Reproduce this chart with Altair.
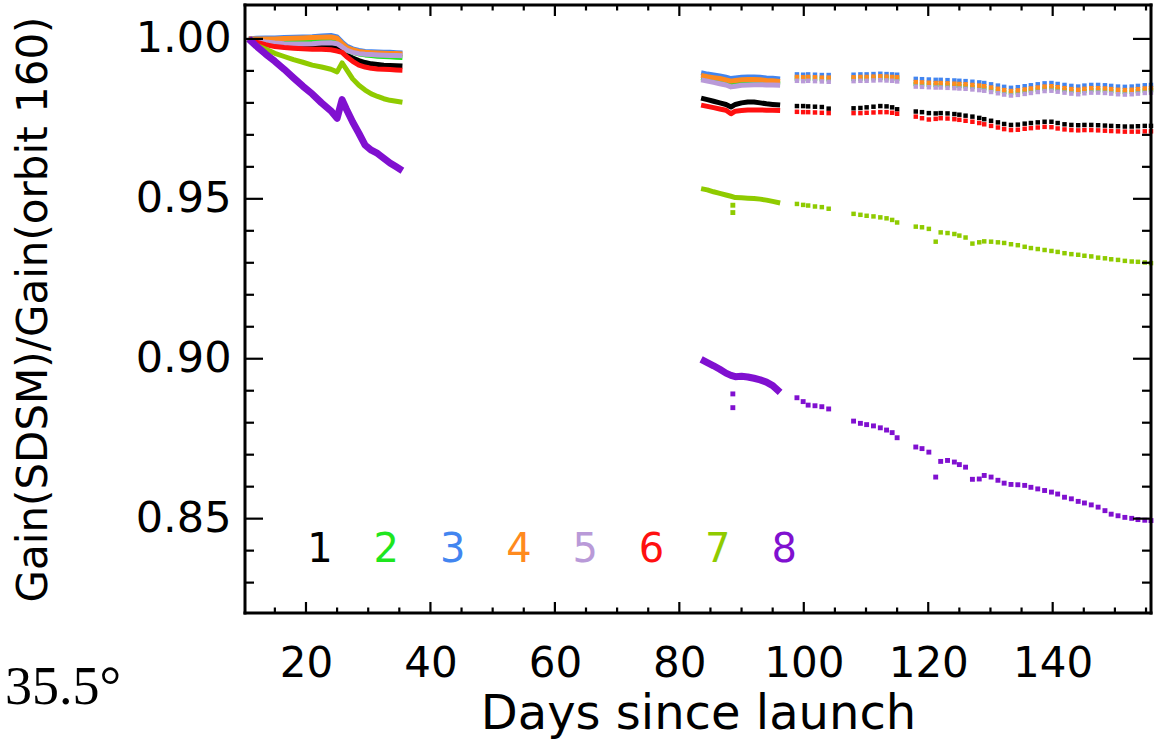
import altair as alt
import pandas as pd

# Detector bands and their plotting colours
BANDS = ["1", "2", "3", "4", "5", "6", "7", "8"]
COLORS = ["#000000", "#1ee61e", "#4285f0", "#ff8a1e", "#b99ad8", "#ff1010", "#8fcb00", "#8010d0"]

# ---- early period: days 11-36 (continuous sampling) ----
seg1_days = [10.8, 12.0, 13.5, 15.0, 16.5, 18.0, 19.5, 21.0, 22.5, 24.0, 25.0,
             25.8, 26.5, 27.5, 28.5, 29.5, 30.5, 31.5, 32.5, 33.5, 34.5, 35.5]
seg1_vals = {
    "1": [1.0000, 0.9993, 0.9988, 0.9984, 0.9981, 0.9979, 0.9977, 0.9976, 0.9975, 0.9974, 0.9973,
          0.9968, 0.9952, 0.9940, 0.9932, 0.9926, 0.9922, 0.9920, 0.9918, 0.9917, 0.9916, 0.9915],
    "2": [1.0000, 0.9998, 0.9996, 0.9995, 0.9994, 0.9994, 0.9994, 0.9995, 0.9996, 0.9996, 0.9992,
          0.9978, 0.9965, 0.9958, 0.9953, 0.9950, 0.9948, 0.9946, 0.9945, 0.9944, 0.9943, 0.9942],
    "3": [1.0000, 1.0002, 1.0003, 1.0003, 1.0004, 1.0005, 1.0006, 1.0007, 1.0009, 1.0011, 1.0006,
          0.9990, 0.9978, 0.9969, 0.9964, 0.9961, 0.9960, 0.9959, 0.9958, 0.9958, 0.9957, 0.9956],
    "4": [1.0000, 1.0000, 1.0000, 1.0000, 1.0001, 1.0002, 1.0003, 1.0004, 1.0005, 1.0006, 1.0002,
          0.9986, 0.9974, 0.9966, 0.9961, 0.9958, 0.9957, 0.9956, 0.9955, 0.9954, 0.9954, 0.9953],
    "5": [1.0000, 0.9994, 0.9990, 0.9987, 0.9985, 0.9984, 0.9984, 0.9985, 0.9987, 0.9988, 0.9985,
          0.9975, 0.9965, 0.9958, 0.9954, 0.9952, 0.9951, 0.9950, 0.9949, 0.9948, 0.9948, 0.9947],
    "6": [1.0000, 0.9990, 0.9982, 0.9976, 0.9973, 0.9971, 0.9969, 0.9968, 0.9968, 0.9966, 0.9962,
          0.9958, 0.9945, 0.9930, 0.9918, 0.9912, 0.9908, 0.9906, 0.9905, 0.9904, 0.9903, 0.9902],
    "7": [1.0000, 0.9980, 0.9968, 0.9955, 0.9945, 0.9935, 0.9927, 0.9918, 0.9912, 0.9905, 0.9897,
          0.9925, 0.9905, 0.9875, 0.9855, 0.9840, 0.9828, 0.9820, 0.9813, 0.9808, 0.9805, 0.9802],
    "8": [1.0000, 0.9978, 0.9953, 0.9930, 0.9905, 0.9878, 0.9852, 0.9828, 0.9800, 0.9775, 0.9752,
          0.9810, 0.9780, 0.9740, 0.9705, 0.9668, 0.9652, 0.9642, 0.9627, 0.9612, 0.9600, 0.9588],
}

# ---- second period, dense part: days 83-96 ----
dense_days = [83.5, 84.5, 85.5, 86.5, 87.5, 88.3, 89.0, 90.0, 91.0, 92.0, 93.0, 94.0, 95.0, 96.2]
dense_vals = {
    "1": [0.9815, 0.9810, 0.9805, 0.9800, 0.9795, 0.9787, 0.9795, 0.9800, 0.9803, 0.9803, 0.9800, 0.9797, 0.9795, 0.9793],
    "2": [0.9878, 0.9874, 0.9871, 0.9868, 0.9864, 0.9860, 0.9862, 0.9864, 0.9865, 0.9865, 0.9864, 0.9862, 0.9861, 0.9859],
    "3": [0.9894, 0.9890, 0.9887, 0.9884, 0.9880, 0.9876, 0.9878, 0.9880, 0.9881, 0.9881, 0.9880, 0.9878, 0.9877, 0.9875],
    "4": [0.9886, 0.9882, 0.9879, 0.9876, 0.9872, 0.9868, 0.9870, 0.9872, 0.9873, 0.9873, 0.9872, 0.9870, 0.9869, 0.9867],
    "5": [0.9872, 0.9868, 0.9864, 0.9860, 0.9856, 0.9850, 0.9852, 0.9855, 0.9856, 0.9857, 0.9857, 0.9856, 0.9856, 0.9855],
    "6": [0.9793, 0.9789, 0.9785, 0.9781, 0.9777, 0.9766, 0.9774, 0.9776, 0.9778, 0.9778, 0.9778, 0.9777, 0.9777, 0.9776],
    "7": [0.9532, 0.9528, 0.9522, 0.9517, 0.9512, 0.9508, 0.9504, 0.9503, 0.9502, 0.9501, 0.9499, 0.9496, 0.9492, 0.9487],
    "8": [0.8998, 0.8988, 0.8978, 0.8967, 0.8955, 0.8948, 0.8944, 0.8945, 0.8943, 0.8939, 0.8934, 0.8927, 0.8916, 0.8895],
}

# outlying samples around day 88.6
dip_band = ["7", "7", "8", "8"]
dip_day = [88.6, 88.6, 88.6, 88.6]
dip_val = [0.9480, 0.9457, 0.8890, 0.8847]

# ---- second period, sparse samples: days 99-156 ----
sparse_days = [98.9, 99.9, 100.7, 101.8, 102.9, 104.0,
               108.0, 109.1, 110.1, 111.2, 112.3, 113.3, 114.2, 115.0,
               118.0, 119.0, 120.1, 121.2, 122.0, 123.1, 124.2, 125.0, 126.0, 127.1, 128.2, 129.0,
               130.1, 131.2, 132.2, 133.3, 134.4, 135.5, 136.5, 137.6, 138.7, 139.8, 140.8, 141.9,
               143.0, 144.1, 145.1, 146.2, 147.3, 148.4, 149.4, 150.5, 151.6, 152.7, 153.7, 154.8, 155.8]
sparse_vals = {
    "1": [0.9790, 0.9790, 0.9789, 0.9788, 0.9787, 0.9782]
       + [0.9783, 0.9784, 0.9786, 0.9788, 0.9790, 0.9789, 0.9786, 0.9780]
       + [0.9773, 0.9771, 0.9768, 0.9767, 0.9768, 0.9767, 0.9765, 0.9763, 0.9760, 0.9757,
          0.9753, 0.9749, 0.9744, 0.9739, 0.9734, 0.9731, 0.9732, 0.9735, 0.9737, 0.9739,
          0.9741, 0.9741, 0.9737, 0.9733, 0.9731, 0.9730, 0.9731, 0.9731, 0.9730, 0.9729,
          0.9728, 0.9727, 0.9726, 0.9726, 0.9727, 0.9728, 0.9728],
    "2": [0.9876, 0.9875, 0.9876, 0.9875, 0.9874, 0.9874]
       + [0.9875, 0.9876, 0.9876, 0.9877, 0.9878, 0.9877, 0.9876, 0.9875]
       + [0.9859, 0.9858, 0.9857, 0.9856, 0.9856, 0.9855, 0.9854, 0.9853, 0.9852, 0.9850,
          0.9848, 0.9846, 0.9842, 0.9838, 0.9834, 0.9831, 0.9833, 0.9836, 0.9839, 0.9842,
          0.9845, 0.9846, 0.9843, 0.9840, 0.9837, 0.9835, 0.9838, 0.9840, 0.9840, 0.9839,
          0.9837, 0.9835, 0.9834, 0.9835, 0.9837, 0.9839, 0.9840],
    "3": [0.9889, 0.9888, 0.9889, 0.9888, 0.9887, 0.9887]
       + [0.9888, 0.9889, 0.9889, 0.9890, 0.9891, 0.9890, 0.9889, 0.9888]
       + [0.9875, 0.9874, 0.9873, 0.9872, 0.9872, 0.9871, 0.9870, 0.9869, 0.9868, 0.9866,
          0.9864, 0.9862, 0.9858, 0.9854, 0.9850, 0.9847, 0.9849, 0.9852, 0.9855, 0.9858,
          0.9861, 0.9862, 0.9859, 0.9856, 0.9853, 0.9851, 0.9854, 0.9856, 0.9856, 0.9855,
          0.9853, 0.9851, 0.9850, 0.9851, 0.9853, 0.9855, 0.9856],
    "4": [0.9881, 0.9880, 0.9881, 0.9880, 0.9879, 0.9879]
       + [0.9880, 0.9881, 0.9881, 0.9882, 0.9883, 0.9882, 0.9881, 0.9880]
       + [0.9865, 0.9864, 0.9863, 0.9862, 0.9862, 0.9861, 0.9860, 0.9859, 0.9858, 0.9856,
          0.9854, 0.9852, 0.9848, 0.9844, 0.9840, 0.9837, 0.9839, 0.9842, 0.9845, 0.9848,
          0.9851, 0.9852, 0.9849, 0.9846, 0.9843, 0.9841, 0.9844, 0.9846, 0.9846, 0.9845,
          0.9843, 0.9841, 0.9840, 0.9841, 0.9843, 0.9845, 0.9846],
    "5": [0.9869, 0.9868, 0.9869, 0.9868, 0.9867, 0.9866]
       + [0.9868, 0.9869, 0.9869, 0.9870, 0.9871, 0.9870, 0.9869, 0.9867]
       + [0.9851, 0.9850, 0.9849, 0.9848, 0.9848, 0.9847, 0.9846, 0.9845, 0.9844, 0.9842,
          0.9840, 0.9838, 0.9834, 0.9830, 0.9826, 0.9823, 0.9825, 0.9828, 0.9831, 0.9834,
          0.9837, 0.9838, 0.9835, 0.9832, 0.9829, 0.9827, 0.9830, 0.9832, 0.9832, 0.9831,
          0.9829, 0.9827, 0.9826, 0.9827, 0.9829, 0.9831, 0.9832],
    "6": [0.9772, 0.9771, 0.9771, 0.9770, 0.9769, 0.9768]
       + [0.9768, 0.9768, 0.9769, 0.9770, 0.9771, 0.9771, 0.9769, 0.9766]
       + [0.9757, 0.9752, 0.9748, 0.9750, 0.9752, 0.9751, 0.9749, 0.9747, 0.9744, 0.9741,
          0.9737, 0.9733, 0.9728, 0.9723, 0.9718, 0.9715, 0.9716, 0.9719, 0.9721, 0.9723,
          0.9725, 0.9724, 0.9720, 0.9717, 0.9715, 0.9714, 0.9715, 0.9715, 0.9714, 0.9713,
          0.9712, 0.9711, 0.9710, 0.9710, 0.9710, 0.9711, 0.9711],
    "7": [0.9484, 0.9481, 0.9479, 0.9476, 0.9474, 0.9469]
       + [0.9453, 0.9450, 0.9447, 0.9445, 0.9442, 0.9439, 0.9434, 0.9426]
       + [0.9413, 0.9411, 0.9406, 0.9366, 0.9395, 0.9393, 0.9390, 0.9385, 0.9379, 0.9360,
          0.9364, 0.9367, 0.9366, 0.9364, 0.9362, 0.9358, 0.9355, 0.9350, 0.9346, 0.9343,
          0.9340, 0.9337, 0.9334, 0.9330, 0.9327, 0.9325, 0.9322, 0.9320, 0.9316, 0.9314,
          0.9311, 0.9309, 0.9306, 0.9304, 0.9303, 0.9301, 0.9299],
    "8": [0.8878, 0.8866, 0.8855, 0.8853, 0.8850, 0.8843]
       + [0.8805, 0.8798, 0.8794, 0.8790, 0.8784, 0.8777, 0.8769, 0.8753]
       + [0.8724, 0.8719, 0.8708, 0.8630, 0.8679, 0.8682, 0.8677, 0.8669, 0.8661, 0.8623,
          0.8624, 0.8635, 0.8630, 0.8620, 0.8611, 0.8607, 0.8606, 0.8604, 0.8598, 0.8593,
          0.8588, 0.8583, 0.8577, 0.8567, 0.8562, 0.8554, 0.8549, 0.8543, 0.8536, 0.8525,
          0.8514, 0.8509, 0.8504, 0.8501, 0.8497, 0.8495, 0.8494],
}

# axis ticks
x_major = [20, 40, 60, 80, 100, 120, 140]
x_minor = [15, 25, 30, 35, 45, 50, 55, 65, 70, 75, 85, 90, 95, 105, 110, 115, 125, 130, 135, 145, 150, 155]
y_major = [0.85, 0.90, 0.95, 1.00]
y_minor = [0.83, 0.84, 0.86, 0.87, 0.88, 0.89, 0.91, 0.92, 0.93, 0.94, 0.96, 0.97, 0.98, 0.99]

# ---------------------------------------------------------------- tables
line_rows = []
for b in BANDS:
    for d, v in zip(seg1_days, seg1_vals[b]):
        line_rows.append({"band": b, "part": "a", "day": d, "value": v})
    for d, v in zip(dense_days, dense_vals[b]):
        line_rows.append({"band": b, "part": "b", "day": d, "value": v})
lines_df = pd.DataFrame(line_rows)

point_rows = []
for b in BANDS:
    for d, v in zip(sparse_days, sparse_vals[b]):
        point_rows.append({"band": b, "day": d, "value": v})
points_df = pd.DataFrame(point_rows)
dips_df = pd.DataFrame({"band": dip_band, "day": dip_day, "value": dip_val})

W, H = 906, 608
FONT = "DejaVu Sans"

x_scale = alt.Scale(domain=[10.2, 155.8], nice=False, zero=False)
y_scale = alt.Scale(domain=[0.8205, 1.0106], nice=False, zero=False)

x_axis = alt.Axis(values=x_major, format="d", title="Days since launch", ticks=False, domain=False,
                  grid=False, labelFont=FONT, labelFontSize=42, labelColor="black", labelPadding=50,
                  labelBaseline="middle", labelFlush=False, labelOverlap=False,
                  titleFont=FONT, titleFontSize=48, titleFontWeight="normal", titleColor="black",
                  titleY=115, titleBaseline="alphabetic")
y_axis = alt.Axis(values=y_major, format=".2f", title="Gain(SDSM)/Gain(orbit 160)", ticks=False,
                  domain=False, grid=False, labelFont=FONT, labelFontSize=43, labelColor="black",
                  labelPadding=14, labelBaseline="middle", labelFlush=False, labelOverlap=False,
                  titleFont=FONT, titleFontSize=42, titleFontWeight="normal", titleColor="black",
                  titleX=-212, titleY=H / 2, titleAngle=-90, titleBaseline="middle", titleAlign="center")

X = alt.X("day:Q", scale=x_scale, axis=x_axis)
Y = alt.Y("value:Q", scale=y_scale, axis=y_axis)
color = alt.Color("band:N", scale=alt.Scale(domain=BANDS, range=COLORS), legend=None)
is_violet = alt.datum.band == "8"

lines = alt.Chart(lines_df).mark_line(strokeJoin="round").encode(
    x=X, y=Y, color=color, detail="part:N",
    strokeWidth=alt.condition(is_violet, alt.value(7), alt.value(5)))
points = alt.Chart(points_df).mark_point(shape="square", filled=True, opacity=1).encode(
    x=X, y=Y, color=color,
    size=alt.condition(is_violet, alt.value(24), alt.value(20)))
dips = alt.Chart(dips_df).mark_point(shape="square", filled=True, size=24, opacity=1).encode(
    x=X, y=Y, color=color)


def x_ticks(vals, length):
    df = pd.DataFrame({"day": vals})
    base = alt.Chart(df).mark_rule(color="black", strokeWidth=2.2)
    bottom = base.encode(x=X, y=alt.value(H), y2=alt.value(H - length))
    top = base.encode(x=X, y=alt.value(0), y2=alt.value(length))
    return [bottom, top]


def y_ticks(vals, length):
    df = pd.DataFrame({"value": vals})
    base = alt.Chart(df).mark_rule(color="black", strokeWidth=2.2)
    left = base.encode(y=Y, x=alt.value(0), x2=alt.value(length))
    right = base.encode(y=Y, x=alt.value(W), x2=alt.value(W - length))
    return [left, right]


tick_layers = (x_ticks(x_major, 11) + x_ticks(x_minor, 5.5)
               + y_ticks(y_major, 18) + y_ticks(y_minor, 9))

# plot frame
frame_df = pd.DataFrame({"edge": ["frame"]})
frame_base = alt.Chart(frame_df).mark_rule(color="black", strokeWidth=3, strokeCap="square")
frame_layers = [
    frame_base.encode(x=alt.value(0), x2=alt.value(W), y=alt.value(0)),
    frame_base.encode(x=alt.value(0), x2=alt.value(W), y=alt.value(H)),
    frame_base.encode(x=alt.value(0), y=alt.value(0), y2=alt.value(H)),
    frame_base.encode(x=alt.value(W), y=alt.value(0), y2=alt.value(H)),
]

# band key written in colour inside the plot
key_layers = []
for i, b in enumerate(BANDS):
    key_layers.append(
        alt.Chart(pd.DataFrame({"t": [b]})).mark_text(
            font=FONT, fontSize=40, color=COLORS[i], align="center", baseline="middle"
        ).encode(text="t:N", x=alt.value(75 + 66.3 * i), y=alt.value(545))
    )

angle_label = alt.Chart(pd.DataFrame({"t": ["35.5°"]})).mark_text(
    font="Liberation Serif", fontSize=54, color="black", align="left", baseline="middle"
).encode(text="t:N", x=alt.value(-240), y=alt.value(683))

chart = alt.layer(lines, points, dips, *tick_layers, *frame_layers, *key_layers, angle_label).properties(
    width=W, height=H,
    autosize=alt.AutoSizeParams(type="none"),
    padding={"left": 245, "top": 5, "right": 14, "bottom": 128},
).configure_view(stroke=None).configure(background="white")

chart.save("out.html", embed_options={"renderer": "svg", "actions": False})
